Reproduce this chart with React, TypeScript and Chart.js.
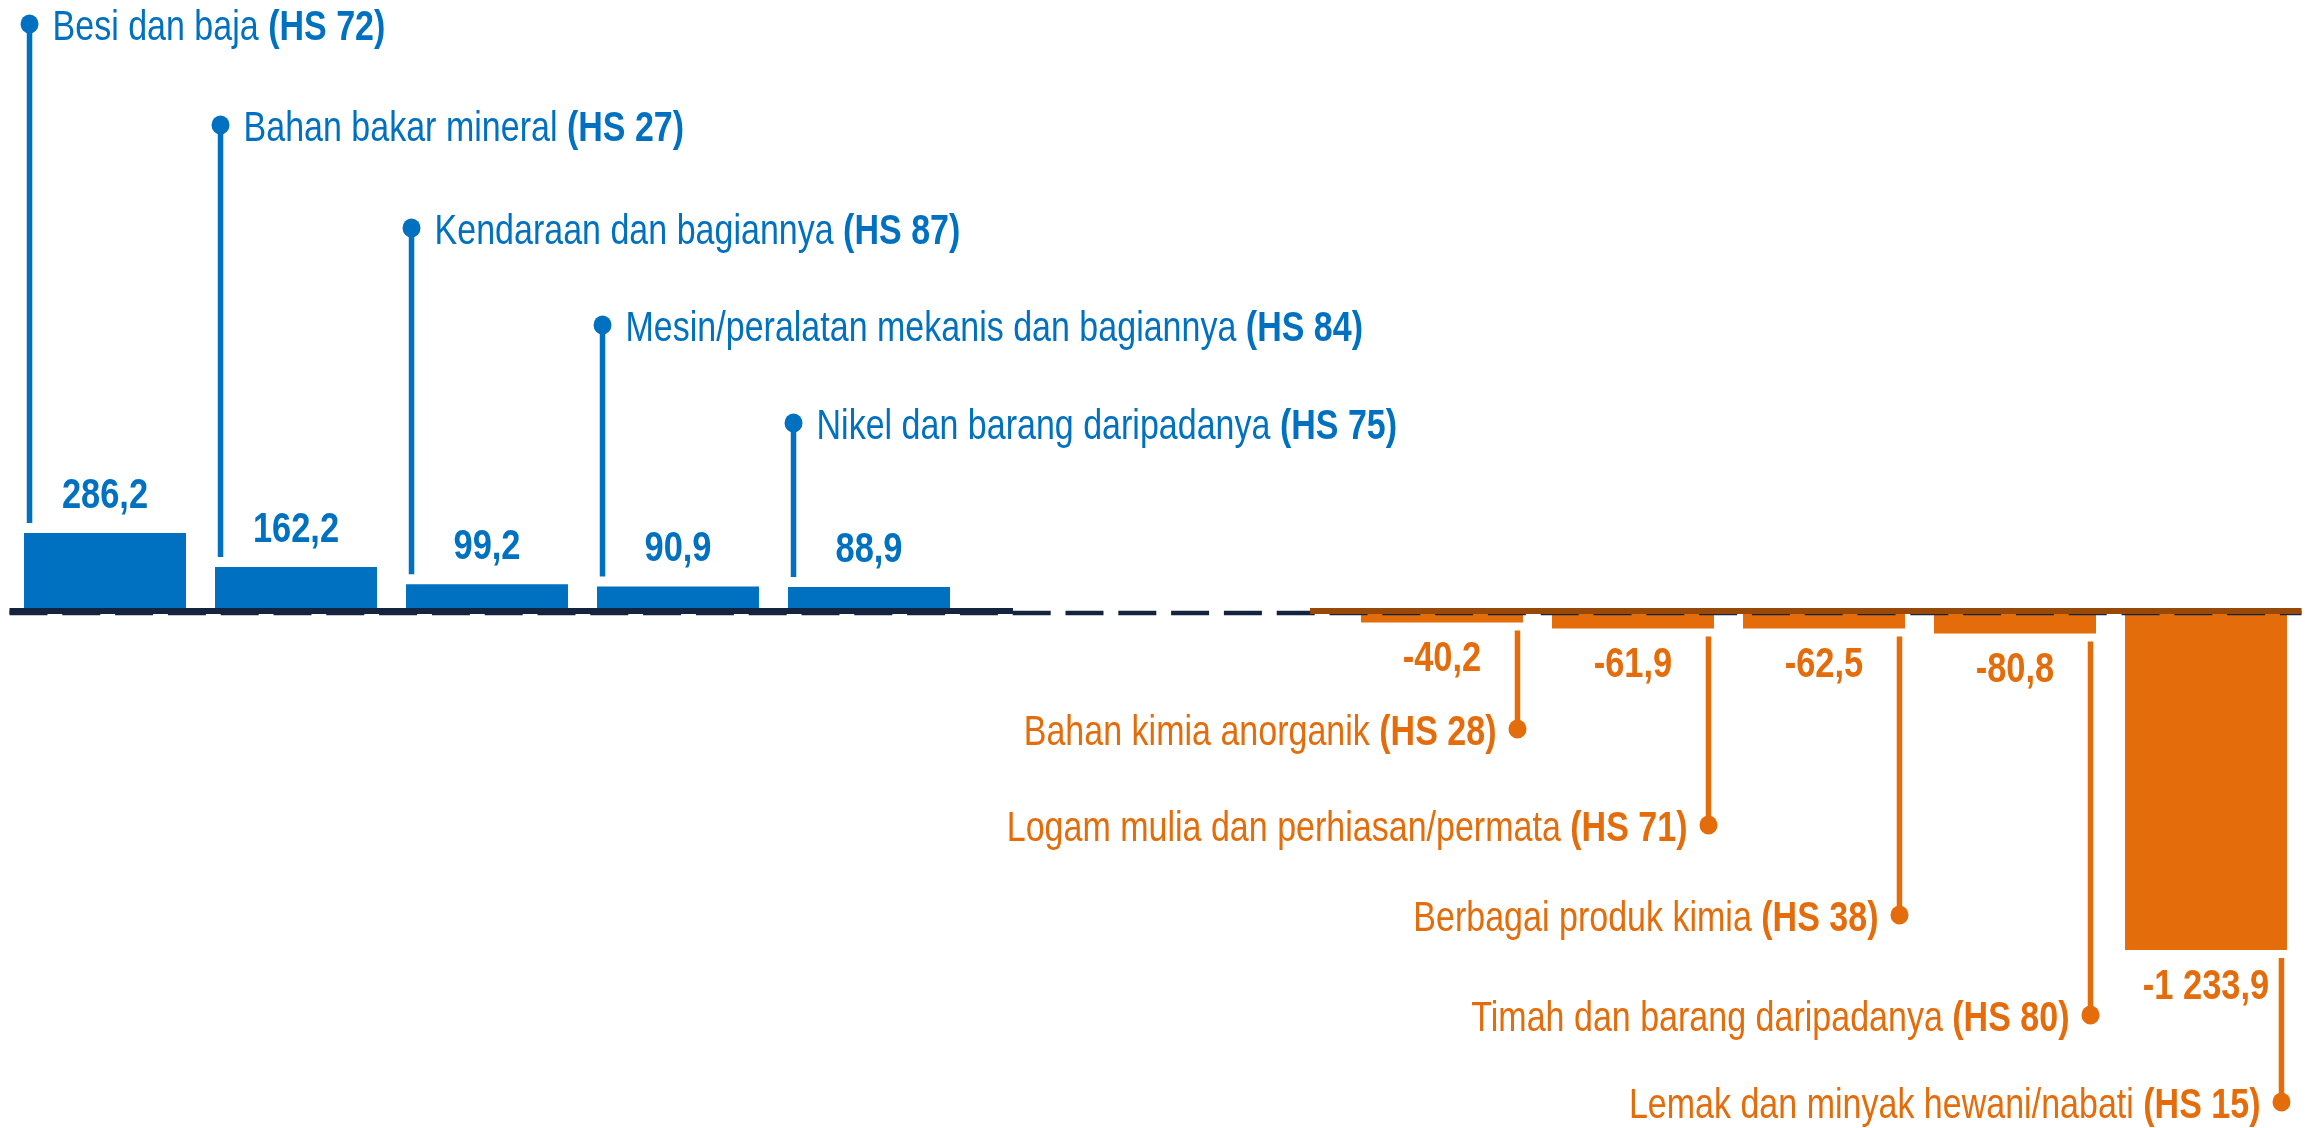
import React, { useEffect, useRef } from "react";
import { Chart, registerables } from "chart.js";

Chart.register(...registerables);

// ---- data ----
const categories = [
  "Besi dan baja",
  "Bahan bakar mineral",
  "Kendaraan dan bagiannya",
  "Mesin/peralatan mekanis dan bagiannya",
  "Nikel dan barang daripadanya",
  "",
  "",
  "Bahan kimia anorganik",
  "Logam mulia dan perhiasan/permata",
  "Berbagai produk kimia",
  "Timah dan barang daripadanya",
  "Lemak dan minyak hewani/nabati",
];
const hsCodes = ["HS 72", "HS 27", "HS 87", "HS 84", "HS 75", "", "", "HS 28", "HS 71", "HS 38", "HS 80", "HS 15"];
const values: (number | null)[] = [286.2, 162.2, 99.2, 90.9, 88.9, null, null, -40.2, -61.9, -62.5, -80.8, -1233.9];

// ---- styling / layout ----
const BLUE = "#0070C0";
const ORANGE = "#E46C0A";
const BROWN = "#984807";
const NAVY = "#14243E";
const FONT = "'Liberation Sans', Arial, sans-serif";
const NARROW = 0.81;
const calloutPosY = [24, 125, 228, 325, 423];
const calloutNegY = [729, 825, 915, 1015, 1102];

function fmt(v: number): string {
  const sign = v < 0 ? "-" : "";
  const a = Math.abs(v).toFixed(1);
  const [i, d] = a.split(".");
  const grouped = i.replace(/\B(?=(\d{3})+(?!\d))/g, " ");
  return sign + grouped + "," + d;
}

function drawCategory(ctx: CanvasRenderingContext2D, x: number, y: number, name: string, code: string, align: "left" | "right", color: string) {
  ctx.save();
  ctx.fillStyle = color;
  ctx.textBaseline = "alphabetic";
  ctx.textAlign = "left";
  const reg = `42px ${FONT}`;
  const bold = `bold 42px ${FONT}`;
  ctx.font = reg;
  const w1 = ctx.measureText(name + " ").width;
  ctx.font = bold;
  const w2 = ctx.measureText("(" + code + ")").width;
  const total = (w1 + w2) * NARROW;
  const sx = align === "left" ? x : x - total;
  ctx.translate(sx, y);
  ctx.scale(NARROW, 1);
  ctx.font = reg;
  ctx.fillText(name + " ", 0, 0);
  ctx.font = bold;
  ctx.fillText("(" + code + ")", w1, 0);
  ctx.restore();
}

function drawValue(ctx: CanvasRenderingContext2D, x: number, y: number, text: string, color: string) {
  ctx.save();
  ctx.fillStyle = color;
  ctx.textBaseline = "middle";
  ctx.textAlign = "center";
  ctx.font = `bold 42px ${FONT}`;
  ctx.translate(x, y);
  ctx.scale(0.82, 1);
  ctx.fillText(text, 0, 0);
  ctx.restore();
}

const annotatePlugin = {
  id: "annotate",
  afterDatasetsDraw(chart: any) {
    const ctx: CanvasRenderingContext2D = chart.ctx;
    const area = chart.chartArea;
    const y0 = chart.scales.y.getPixelForValue(0);
    const meta = chart.getDatasetMeta(0);

    // axis lines
    ctx.save();
    ctx.strokeStyle = NAVY;
    ctx.lineWidth = 4.5;
    ctx.setLineDash([38, 14.8]);
    ctx.beginPath();
    ctx.moveTo(area.left, y0 + 1.5);
    ctx.lineTo(area.right, y0 + 1.5);
    ctx.stroke();
    ctx.setLineDash([]);
    ctx.lineWidth = 6;
    const firstNeg = meta.data[7];
    const lastPos = meta.data[4];
    const navyEnd = lastPos.x + lastPos.width / 2 + 63;
    ctx.beginPath();
    ctx.moveTo(area.left, y0 - 0.5);
    ctx.lineTo(navyEnd, y0 - 0.5);
    ctx.stroke();
    ctx.strokeStyle = BROWN;
    ctx.beginPath();
    ctx.moveTo(firstNeg.x - firstNeg.width / 2 - 51, y0 - 0.5);
    ctx.lineTo(area.right, y0 - 0.5);
    ctx.stroke();
    ctx.restore();

    let pi = 0;
    let ni = 0;
    values.forEach((v, i) => {
      if (v === null) return;
      const bar = meta.data[i];
      const half = bar.width / 2;
      const end = chart.scales.y.getPixelForValue(v);
      const color = v >= 0 ? BLUE : ORANGE;
      ctx.save();
      ctx.strokeStyle = color;
      ctx.fillStyle = color;
      ctx.lineWidth = 5.5;
      if (v >= 0) {
        const lx = bar.x - half + 5.5;
        const dy = calloutPosY[pi++];
        ctx.beginPath();
        ctx.moveTo(lx, dy);
        ctx.lineTo(lx, end - 10);
        ctx.stroke();
        ctx.beginPath();
        ctx.ellipse(lx, dy, 9, 9.5, 0, 0, Math.PI * 2);
        ctx.fill();
        ctx.restore();
        drawCategory(ctx, lx + 23, dy + 16, categories[i], hsCodes[i], "left", color);
        drawValue(ctx, bar.x, end - 37, fmt(v), color);
      } else {
        const lx = bar.x + half - 5.5;
        const dy = calloutNegY[ni++];
        ctx.beginPath();
        ctx.moveTo(lx, end + 8);
        ctx.lineTo(lx, dy);
        ctx.stroke();
        ctx.beginPath();
        ctx.ellipse(lx, dy, 9, 9.5, 0, 0, Math.PI * 2);
        ctx.fill();
        ctx.restore();
        drawCategory(ctx, lx - 21, dy + 16, categories[i], hsCodes[i], "right", color);
        drawValue(ctx, bar.x, end + 37, fmt(v), color);
      }
    });
  },
};

export default function App() {
  const ref = useRef<HTMLCanvasElement | null>(null);
  useEffect(() => {
    document.body.style.margin = "0";
    document.body.style.overflow = "hidden";
    const canvas = ref.current;
    if (!canvas) return;
    const chart = new Chart(canvas, {
      type: "bar",
      data: {
        labels: categories,
        datasets: [
          {
            data: values,
            backgroundColor: values.map((v) => ((v ?? 0) >= 0 ? BLUE : ORANGE)),
            borderWidth: 0,
            barPercentage: 0.848,
            categoryPercentage: 1,
          },
        ],
      },
      options: {
        responsive: false,
        animation: false,
        devicePixelRatio: 1,
        layout: { padding: { left: 9.5, right: 7.5, top: 0, bottom: 0 } },
        plugins: { legend: { display: false }, tooltip: { enabled: false } },
        scales: {
          x: { display: false, grid: { display: false } },
          y: { display: false, min: -1883, max: 2229, grid: { display: false } },
        },
      },
      plugins: [annotatePlugin],
    });
    return () => chart.destroy();
  }, []);
  return (
    <div style={{ position: "absolute", left: 0, top: 0, width: 2309, height: 1128, background: "#fff" }}>
      <canvas ref={ref} width={2309} height={1128} style={{ display: "block", width: 2309, height: 1128 }} />
    </div>
  );
}
